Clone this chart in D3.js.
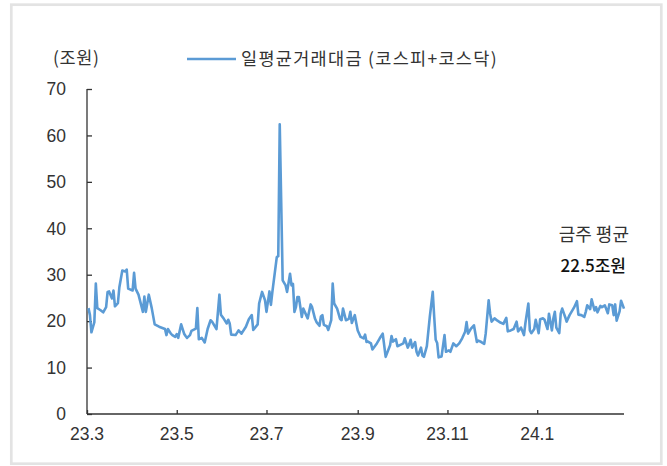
<!DOCTYPE html>
<html>
<head>
<meta charset="utf-8">
<script src="https://cdn.jsdelivr.net/npm/d3@7"></script>
<style>
  body { margin: 0; background: #fff; }
  text { font-family: "Liberation Sans", Arial, sans-serif; }
  .kr { font-family: "Noto Sans CJK KR", "Noto Sans", sans-serif; }
</style>
</head>
<body>
<div id="chart"></div>
<script>
// daily trading value, KOSPI + KOSDAQ (trillion won)
var dates = [
  "230302","230303","230304","230306","230307","230308","230310","230312","230314","230315",
  "230316","230318","230319","230320","230322","230323","230325","230327","230328","230329",
  "230401","230402","230403","230405","230408","230409","230410","230412","230414","230416",
  "230419","230423","230424","230425","230427","230428","230430","230501","230502","230504",
  "230506","230507","230508","230510","230511","230514","230515","230516","230518","230519",
  "230520","230522","230524","230525","230528","230530","230531","230602","230604","230605",
  "230606","230607","230610","230612","230614","230617","230619","230621","230622","230625",
  "230626","230628","230630","230701","230703","230704","230705","230708","230709","230710",
  "230712","230714","230715","230717","230718","230719","230720","230721","230722","230723",
  "230725","230726","230727","230729","230731","230801","230803","230804","230806","230807",
  "230808","230809","230811","230812","230814","230815","230816","230818","230820","230821",
  "230822","230824","230826","230827","230828","230830","230831","230901","230903","230905",
  "230906","230907","230908","230910","230911","230914","230916","230918","230920","230923",
  "230924","230925","230927","230928","230930","231002","231003","231005","231006","231007",
  "231008","231010","231011","231012","231014","231015","231016","231018","231020","231022",
  "231023","231024","231025","231026","231028","231030","231031","231102","231103","231105",
  "231107","231109","231111","231113","231114","231115","231117","231119","231121","231122",
  "231124","231126","231127","231129","231130","231201","231203","231205","231207","231209",
  "231211","231212","231214","231216","231218","231219","231221","231223","231224","231226",
  "231227","231228","231230","231231","240102","240103","240105","240106","240108","240109",
  "240111","240112","240113","240114","240116","240117","240118","240120","240121","240123",
  "240126","240128","240129","240131","240202","240203","240204","240206","240207","240209",
  "240210","240211","240213","240214","240216","240218","240219","240221","240222","240223",
  "240224","240226","240227","240229"
];
var values = [
  22.8,21.3,17.6,19.8,28.1,22.8,22.4,21.9,23.0,26.3,
  26.4,24.9,26.6,23.2,23.9,27.3,30.9,30.7,31.1,27.0,
  26.6,30.4,27.0,25.7,22.0,25.3,22.0,25.7,22.8,19.3,
  18.8,18.3,17.0,18.3,17.3,17.0,16.6,17.2,16.4,19.3,
  17.3,16.8,16.4,17.0,17.9,18.4,22.8,16.1,16.4,15.9,
  15.4,18.3,20.2,19.9,18.3,25.7,21.4,20.5,19.5,20.3,
  19.5,17.1,17.0,18.0,17.3,18.8,20.4,21.3,18.1,19.3,
  23.8,26.3,24.5,22.0,26.4,23.5,26.3,33.8,34.0,62.4,
  28.8,27.7,26.3,30.2,27.7,28.0,22.0,23.0,25.2,25.2,
  20.9,22.7,22.0,20.6,23.6,23.0,20.5,19.8,19.0,21.0,
  21.3,19.2,18.9,18.1,20.2,28.1,23.8,22.7,20.5,20.2,
  22.7,20.2,20.5,22.0,19.6,21.3,19.6,18.0,16.6,16.3,
  17.1,15.5,15.6,15.2,13.9,15.2,16.3,17.3,12.3,14.8,
  16.8,15.6,16.1,14.6,14.9,15.2,16.3,14.3,15.0,16.0,
  14.3,15.5,13.4,12.6,14.3,12.6,12.3,14.6,20.9,26.3,
  20.9,16.0,15.3,12.2,12.4,17.0,13.4,13.7,13.4,15.2,
  14.6,15.2,16.3,17.7,19.8,17.3,18.4,19.1,15.5,15.8,
  15.5,15.1,17.3,24.5,21.6,19.9,20.6,20.1,19.7,19.4,
  20.7,17.8,18.0,18.3,19.9,17.8,18.6,17.0,19.6,23.8,
  18.0,17.4,18.3,20.3,17.4,20.4,20.6,20.3,18.3,21.6,
  18.0,20.6,22.0,18.6,17.4,21.6,22.7,20.9,19.9,21.3,
  22.9,24.3,21.4,21.3,20.9,22.0,23.4,22.6,24.7,22.3,
  23.0,21.9,23.3,23.0,23.4,21.7,23.6,23.4,21.3,23.6,
  20.1,22.1,24.4,22.7
];

var yTicks = [0, 10, 20, 30, 40, 50, 60, 70];
var xTickDates = ["230301", "230501", "230701", "230901", "231101", "240101"];
var xTickLabels = ["23.3", "23.5", "23.7", "23.9", "23.11", "24.1"];

var unitLabel = "(조원)";
var seriesName = "일평균거래대금 (코스피+코스닥)";
var noteTitle = "금주 평균";
var noteValue = "22.5조원";

var W = 667, H = 466;
var parse = d3.timeParse("%y%m%d");

var data = dates.map(function (d, i) { return { date: parse(d), value: values[i] }; });

var x = d3.scaleTime()
    .domain([parse("230301"), parse("240229")])
    .range([87, 624]);
var y = d3.scaleLinear()
    .domain([0, 70])
    .range([414, 89]);

var svg = d3.select("#chart")
    .append("svg")
    .attr("width", W)
    .attr("height", H);

svg.append("rect")
    .attr("width", W).attr("height", H)
    .attr("fill", "#fff");

// outer frame
svg.append("rect")
    .attr("x", 11.3).attr("y", 4.7)
    .attr("width", 650).attr("height", 459)
    .attr("fill", "none")
    .attr("stroke", "#e3e3e3")
    .attr("stroke-width", 2.7);

// y axis (ticks inside)
var yAxis = svg.append("g")
    .attr("transform", "translate(" + x.range()[0] + ",0)")
    .call(d3.axisRight(y).tickValues(yTicks).tickSize(5).tickFormat(""));
yAxis.select(".domain").remove();
yAxis.append("line")
    .attr("y1", y(70)).attr("y2", y(0))
    .attr("stroke", "#333").attr("stroke-width", 1.3);
yAxis.selectAll(".tick line").attr("stroke", "#333").attr("stroke-width", 1.3);

svg.selectAll(".ylab")
    .data(yTicks)
    .enter().append("text")
    .attr("class", "ylab")
    .attr("x", 66)
    .attr("y", function (d) { return y(d); })
    .attr("dy", "0.36em")
    .attr("text-anchor", "end")
    .attr("font-size", 17.5)
    .attr("fill", "#333")
    .text(function (d) { return d; });

// x axis (ticks inside)
var xAxis = svg.append("g")
    .attr("transform", "translate(0," + y(0) + ")")
    .call(d3.axisTop(x).tickValues(xTickDates.map(parse)).tickSize(4).tickFormat(""));
xAxis.select(".domain").remove();
xAxis.append("line")
    .attr("x1", x.range()[0]).attr("x2", x.range()[1])
    .attr("stroke", "#333").attr("stroke-width", 1.3);
xAxis.selectAll(".tick line").attr("stroke", "#333").attr("stroke-width", 1.3);

svg.selectAll(".xlab")
    .data(xTickDates)
    .enter().append("text")
    .attr("class", "xlab")
    .attr("x", function (d) { return x(parse(d)); })
    .attr("y", 434)
    .attr("dy", "0.36em")
    .attr("text-anchor", "middle")
    .attr("font-size", 17.5)
    .attr("fill", "#333")
    .text(function (d, i) { return xTickLabels[i]; });

// series line
var line = d3.line()
    .x(function (d) { return x(d.date); })
    .y(function (d) { return y(d.value); });

svg.append("path")
    .datum(data)
    .attr("d", line)
    .attr("fill", "none")
    .attr("stroke", "#5b9bd5")
    .attr("stroke-width", 2.6)
    .attr("stroke-linejoin", "round");

// unit label and legend
svg.append("text")
    .attr("class", "kr")
    .attr("x", 53).attr("y", 58)
    .attr("dy", "0.36em")
    .attr("font-size", 17.5)
    .attr("letter-spacing", 0.6)
    .attr("fill", "#333")
    .text(unitLabel);

svg.append("line")
    .attr("x1", 187).attr("x2", 236)
    .attr("y1", 59).attr("y2", 59)
    .attr("stroke", "#5b9bd5")
    .attr("stroke-width", 2.6);

svg.append("text")
    .attr("class", "kr")
    .attr("x", 241).attr("y", 59)
    .attr("dy", "0.36em")
    .attr("font-size", 17.5)
    .attr("letter-spacing", 1.3)
    .attr("fill", "#333")
    .text(seriesName);

// weekly average note
svg.append("text")
    .attr("class", "kr")
    .attr("x", 629).attr("y", 235)
    .attr("dy", "0.36em")
    .attr("text-anchor", "end")
    .attr("font-size", 18)
    .attr("fill", "#333")
    .text(noteTitle);

svg.append("text")
    .attr("class", "kr")
    .attr("x", 626).attr("y", 266)
    .attr("dy", "0.36em")
    .attr("text-anchor", "end")
    .attr("font-size", 17)
    .attr("font-weight", 500)
    .attr("fill", "#111")
    .text(noteValue);
</script>
</body>
</html>
